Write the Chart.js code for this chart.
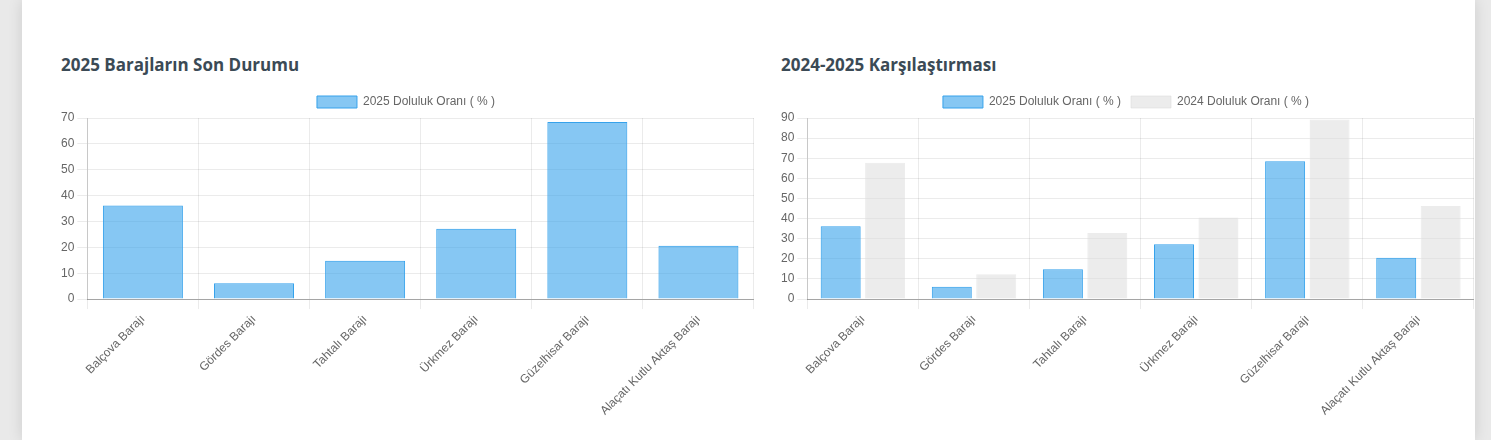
<!DOCTYPE html>
<html>
<head>
<meta charset="utf-8">
<script src="https://cdn.jsdelivr.net/npm/chart.js@4/dist/chart.umd.min.js"></script>
<style>
  body { margin: 0; background: #e9e9e9; width: 1491px; height: 440px; overflow: hidden; font-family: "Open Sans", sans-serif; }
  .card { position: absolute; left: 22px; top: 0; width: 1453px; height: 440px; background: #fff; box-shadow: 0 0 14px rgba(0,0,0,0.12); }
  h3 { position: absolute; margin: 0; font-size: 17px; font-weight: 700; color: #3b4a55; top: 53px; }
  .box { position: absolute; top: 86px; height: 335px; }
</style>
</head>
<body>
<div class="card"></div>
<h3 style="left:61px">2025 Barajların Son Durumu</h3>
<h3 style="left:781px">2024-2025 Karşılaştırması</h3>
<div class="box" style="left:58px;width:696px"><canvas id="chart1"></canvas></div>
<div class="box" style="left:778px;width:696px"><canvas id="chart2"></canvas></div>
<script>
const barajlar = ['Balçova Barajı', 'Gördes Barajı', 'Tahtalı Barajı', 'Ürkmez Barajı', 'Güzelhisar Barajı', 'Alaçatı Kutlu Aktaş Barajı'];
const doluluk2025 = [36.2, 6.1, 14.8, 27.2, 68.5, 20.6];
const doluluk2024 = [67.8, 12.3, 32.8, 40.6, 89.3, 46.2];

const blue = { backgroundColor: 'rgba(54,162,235,0.6)', borderColor: 'rgb(54,162,235)', borderWidth: 1 };
const gray = { backgroundColor: 'rgba(220,220,220,0.55)', borderColor: 'rgba(220,220,220,0.55)', borderWidth: 1 };
const font = { family: 'Liberation Sans, Arial, sans-serif', size: 12 };

function options(pct) {
    return {
        responsive: true,
        maintainAspectRatio: false,
        animation: false,
        layout: { padding: { left: 0, right: 0 } },
        plugins: {
            legend: { labels: { color: '#666', font, boxWidth: 40, boxHeight: 12 } },
            tooltip: { enabled: false },
        },
        scales: {
            x: {
                grid: { color: 'rgba(0,0,0,0.08)', tickLength: 10 },
                ticks: { color: '#666', font, minRotation: 45, maxRotation: 45 },
                border: { color: 'rgba(0,0,0,0.3)' },
            },
            y: {
                beginAtZero: true,
                grid: { color: 'rgba(0,0,0,0.08)', tickLength: 10 },
                ticks: { color: '#666', font, stepSize: 10 },
                border: { color: 'rgba(0,0,0,0.15)' },
            },
        },
        datasets: { bar: { categoryPercentage: pct, barPercentage: 0.9 } },
    };
}

new Chart(document.getElementById('chart1'), {
    type: 'bar',
    data: { labels: barajlar, datasets: [{ label: '2025 Doluluk Oranı ( % )', data: doluluk2025, ...blue }] },
    options: options(0.8),
});

new Chart(document.getElementById('chart2'), {
    type: 'bar',
    data: {
        labels: barajlar,
        datasets: [
            { label: '2025 Doluluk Oranı ( % )', data: doluluk2025, ...blue },
            { label: '2024 Doluluk Oranı ( % )', data: doluluk2024, ...gray },
        ],
    },
    options: options(0.8),
});
</script>
</body>
</html>
